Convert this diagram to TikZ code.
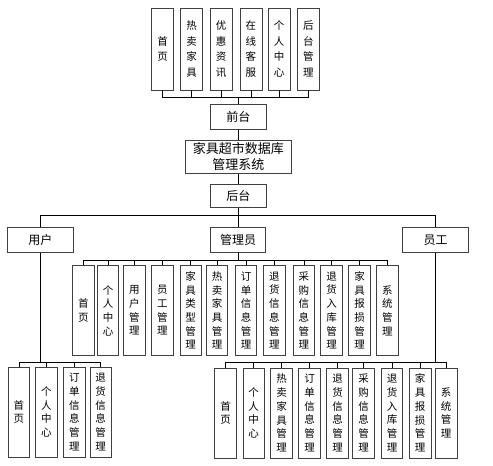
\documentclass[tikz,border=0pt]{standalone}
\usepackage{fontspec}
\newfontfamily\cjk{Noto Sans CJK SC}
\begin{document}
\begin{tikzpicture}[x=1pt,y=-1pt,
  box/.style={draw=black!75,line width=0.6pt,rectangle,inner sep=0pt,align=center},
  hbox/.style={box,font=\cjk\fontsize{12}{15}\selectfont},
  vtop/.style={box,minimum width=22pt,minimum height=82pt,font=\cjk\fontsize{10.5}{15.6}\selectfont},
  vmid/.style={box,minimum width=21.5pt,minimum height=90.4pt,font=\cjk\fontsize{10.5}{13.7}\selectfont},
  conn/.style={draw=black,line width=0.6pt},
  thick conn/.style={draw=black,line width=1.1pt}]
\useasboundingbox (0,0) rectangle (493,466);
% top row
\node[vtop] (t1) at (162.5,49) {首\\页};
\node[vtop] (t2) at (191.7,49) {热\\卖\\家\\具};
\node[vtop] (t3) at (221.2,49) {优\\惠\\资\\讯};
\node[vtop] (t4) at (250.8,49) {在\\线\\客\\服};
\node[vtop] (t5) at (279,49) {个\\人\\中\\心};
\node[vtop] (t6) at (308.3,49) {后\\台\\管\\理};
\node[hbox,minimum width=55.3pt,minimum height=25.3pt] (qt) at (238.3,116.7) {前台};
\node[hbox,minimum width=105.3pt,minimum height=33.3pt,font=\cjk\fontsize{13}{16.5}\selectfont] (sys) at (238.3,156.7) {家具超市数据库\\管理系统};
\node[hbox,minimum width=55.3pt,minimum height=23pt] (ht) at (238.3,196) {后台};
\node[hbox,minimum width=66pt,minimum height=24.6pt] (yh) at (40.3,240) {用户};
\node[hbox,minimum width=55pt,minimum height=24.6pt] (gly) at (238.2,240) {管理员};
\node[hbox,minimum width=66pt,minimum height=24.6pt] (yg) at (435.7,240) {员工};
% manager children
\node[vmid] (m1) at (83.3,310.5) {首\\页};
\node[vmid] (m2) at (108,310.5) {个\\人\\中\\心};
\node[vmid] (m3) at (134.3,310.5) {用\\户\\管\\理};
\node[vmid] (m4) at (162.3,310.5) {员\\工\\管\\理};
\node[vmid] (m5) at (190.7,310.5) {家\\具\\类\\型\\管\\理};
\node[vmid] (m6) at (217,310.5) {热\\卖\\家\\具\\管\\理};
\node[vmid] (m7) at (246,310.5) {订\\单\\信\\息\\管\\理};
\node[vmid] (m8) at (274.3,310.5) {退\\货\\信\\息\\管\\理};
\node[vmid] (m9) at (303.8,310.5) {采\\购\\信\\息\\管\\理};
\node[vmid] (m10) at (331.5,310.5) {退\\货\\入\\库\\管\\理};
\node[vmid] (m11) at (359.5,310.5) {家\\具\\报\\损\\管\\理};
\node[vmid] (m12) at (387.3,310.5) {系\\统\\管\\理};
% user children
\node[vmid] (u1) at (18.8,412) {首\\页};
\node[vmid] (u2) at (46.3,412) {个\\人\\中\\心};
\node[vmid] (u3) at (74.3,412) {订\\单\\信\\息\\管\\理};
\node[vmid] (u4) at (100.7,412) {退\\货\\信\\息\\管\\理};
% staff children
\node[vmid] (e1) at (225.5,413) {首\\页};
\node[vmid] (e2) at (253.7,413) {个\\人\\中\\心};
\node[vmid] (e3) at (281.5,413) {热\\卖\\家\\具\\管\\理};
\node[vmid] (e4) at (309.5,413) {订\\单\\信\\息\\管\\理};
\node[vmid] (e5) at (337.5,413) {退\\货\\信\\息\\管\\理};
\node[vmid] (e6) at (363.5,413) {采\\购\\信\\息\\管\\理};
\node[vmid] (e7) at (392,413) {退\\货\\入\\库\\管\\理};
\node[vmid] (e8) at (420.2,413) {家\\具\\报\\损\\管\\理};
\node[vmid] (e9) at (446.2,413) {系\\统\\管\\理};
% bus coordinates
\coordinate (bTop) at (0,97);
\coordinate (bMid) at (0,215.7);
\coordinate (bMgr) at (0,260);
\coordinate (bLow) at (0,362.7);
% connectors
\foreach \n in {t1,t2,t3,t4,t5,t6}
  \draw[conn] (qt.north) -- (qt.north |- bTop) -| (\n.south);
\draw[conn] (qt.south) -- (sys.north);
\draw[conn] (sys.south) -- (ht.north);
\foreach \n in {yh,gly,yg}
  \draw[conn] (ht.south) -- (ht.south |- bMid) -| (\n.north);
\foreach \n in {m1,m2,m3,m4,m5,m6,m7,m8,m9,m10,m11,m12}
  \draw[conn] (gly.south) -- (gly.south |- bMgr) -| (\n.north);
\draw[thick conn] (yh.south) -- (yh.south |- bLow);
\foreach \n in {u1,u2,u3,u4}
  \draw[conn] (yh.south |- bLow) -| (\n.north);
\draw[thick conn] (yg.south) -- (yg.south |- bLow);
\foreach \n in {e1,e2,e3,e4,e5,e6,e7,e8,e9}
  \draw[conn] (yg.south |- bLow) -| (\n.north);
\end{tikzpicture}
\end{document}
